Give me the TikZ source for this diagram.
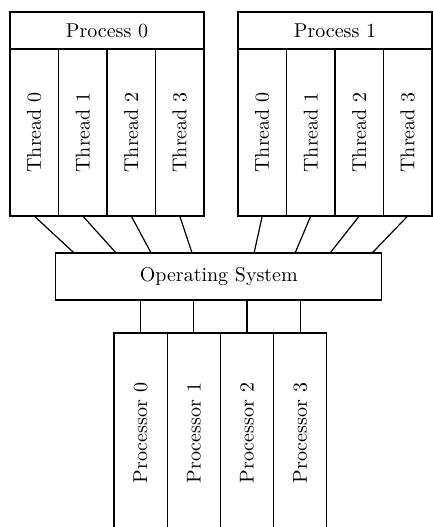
\documentclass[tikz,border=0pt]{standalone}
\usepackage{tikz}
\usetikzlibrary{positioning}

\begin{document}
\begin{tikzpicture}[semithick,every node/.style={outer sep=0pt},
        header/.style={draw,rectangle,minimum width=97pt,minimum height=18.5pt,inner sep=0pt},
        thread/.style={draw,rectangle,minimum width=24.25pt,minimum height=83.5pt,inner sep=0pt},
        osbox/.style={draw,rectangle,minimum width=163pt,minimum height=23.5pt,inner sep=0pt},
        cpu/.style={draw,rectangle,minimum width=26.6pt,minimum height=100pt,inner sep=0pt}]
        \path[use as bounding box] (0,0) rectangle (216.5pt,-263.5pt);
        \clip (0,0) rectangle (216.5pt,-263.5pt);

        % processes and their threads
        \node[header,anchor=north west] (p0) at (5pt,-6pt) {Process 0};
        \node[header,anchor=north west] (p1) at (119pt,-6pt) {Process 1};
        \foreach \p in {0,1} {
            \node[thread] (p\p t0) [below right=0pt and 0pt of p\p.south west] {\rotatebox{90}{Thread 0}};
            \node[thread] (p\p t1) [right=0pt of p\p t0] {\rotatebox{90}{Thread 1}};
            \node[thread] (p\p t2) [right=0pt of p\p t1] {\rotatebox{90}{Thread 2}};
            \node[thread] (p\p t3) [right=0pt of p\p t2] {\rotatebox{90}{Thread 3}};
        }

        \node[osbox] (os) at (109.4pt,-138.25pt) {Operating System};

        % processors
        \node[cpu,anchor=north west] (c0) at (57pt,-166.5pt) {\rotatebox{90}{Processor 0}};
        \node[cpu] (c1) [right=0pt of c0] {\rotatebox{90}{Processor 1}};
        \node[cpu] (c2) [right=0pt of c1] {\rotatebox{90}{Processor 2}};
        \node[cpu] (c3) [right=0pt of c2] {\rotatebox{90}{Processor 3}};

        \foreach \t/\d in {0/9.15,1/30.15,2/47.65,3/68.15}
            \draw (p0t\t.south) -- ([xshift=\d pt]os.north west);
        \foreach \t/\d in {0/99.15,1/119.65,2/137.15,3/158.15}
            \draw (p1t\t.south) -- ([xshift=\d pt]os.north west);
        \foreach \c in {0,...,3}
            \draw (c\c.north) -- (c\c.north |- os.south);
    \end{tikzpicture}
\end{document}
